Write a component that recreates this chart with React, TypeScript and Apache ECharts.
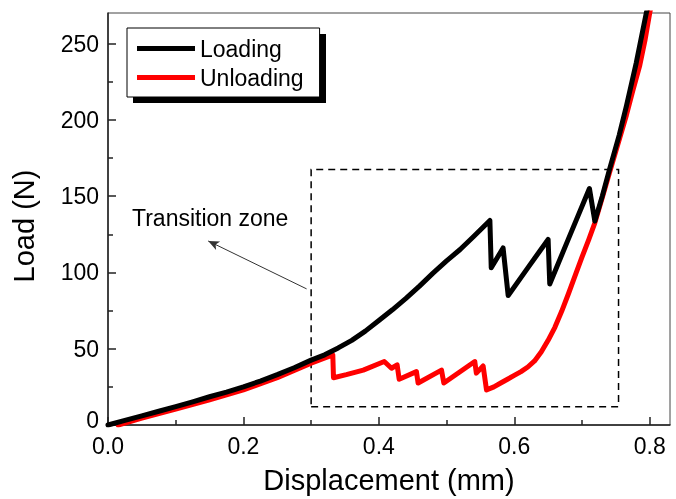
import React, { useEffect, useRef } from "react";
import * as echarts from "echarts";

const FONT = "'Liberation Sans', Arial, sans-serif";

// Loading curve (black)
const loadX = [0, 0.025, 0.05, 0.075, 0.1, 0.125, 0.15, 0.175, 0.2, 0.225, 0.25, 0.275, 0.3, 0.32, 0.34, 0.36, 0.38, 0.4, 0.42, 0.44, 0.46, 0.48, 0.5, 0.52, 0.54, 0.564, 0.566, 0.5835, 0.591, 0.62, 0.65, 0.6524, 0.68, 0.711, 0.719, 0.73, 0.741, 0.755, 0.7656, 0.78, 0.795, 0.8];
const loadY = [0, 3, 6, 9, 12, 15.2, 18.5, 21.6, 25, 28.8, 33, 37.5, 42.5, 46, 50.5, 55.5, 61.5, 68.5, 75.5, 83, 91, 99.5, 107.5, 115, 123.5, 134, 103, 116, 84.8, 103, 121.6, 92.4, 122, 155, 133.6, 150, 168, 190, 209, 237, 270, 278];

// Unloading curve (red)
const unX = [0.015, 0.05, 0.1, 0.15, 0.2, 0.25, 0.3, 0.332, 0.333, 0.352, 0.377, 0.408, 0.4187, 0.427, 0.43, 0.4555, 0.458, 0.4925, 0.496, 0.5417, 0.544, 0.554, 0.559, 0.57, 0.58, 0.59, 0.6, 0.61, 0.62, 0.63, 0.64, 0.65, 0.66, 0.67, 0.68, 0.69, 0.7, 0.71, 0.719, 0.73, 0.741, 0.753, 0.7656, 0.775, 0.785, 0.793, 0.8, 0.803];
const unY = [0, 4.5, 10.5, 16.5, 23, 31, 40.5, 46, 31, 33, 36, 41.6, 37.2, 39.4, 30, 35, 27.5, 36, 27.5, 41.6, 34, 38.7, 23, 25, 27.5, 30, 32.5, 35, 38, 42, 48, 55.5, 64, 74.5, 86, 98, 110, 121.5, 132.5, 149, 166, 184, 203, 219, 235, 252, 270, 276];

const xMajor = [0, 0.2, 0.4, 0.6, 0.8];
const xMinor = [0.1, 0.3, 0.5, 0.7];
const yMajor = [0, 50, 100, 150, 200, 250];
const yMinor = [25, 75, 125, 175, 225];

const zoneBox = [[0.3, 12], [0.754, 167.5]];
const arrowFrom = [0.2933, 89.2];
const arrowTo = [0.148, 120.6];

export default function App() {
  const ref = useRef<HTMLDivElement>(null);
  useEffect(() => {
    document.body.style.margin = "0";
    const chart = echarts.init(ref.current!, undefined, { renderer: "svg" });
    const pair = (xs: number[], ys: number[]) => xs.map((x, i) => [x, ys[i]]);
    const axisColor = "#222";
    chart.setOption({
      animation: false,
      grid: { left: 108, right: 6, top: 13, bottom: 70, show: true, borderColor: "#444", borderWidth: 1 },
      legend: {
        data: ["Loading", "Unloading"],
        orient: "vertical",
        left: 127,
        top: 28,
        padding: [9, 16, 8, 10],
        icon: "rect",
        itemWidth: 58,
        itemHeight: 5,
        itemGap: 6,
        backgroundColor: "#fff",
        borderColor: "#000",
        borderWidth: 1,
        textStyle: { fontSize: 23, color: "#000", fontFamily: FONT },
      },
      graphic: [
        { type: "rect", z: 1, shape: { x: 133, y: 34, width: 193, height: 69 }, style: { fill: "#000" } },
        { type: "text", z: 10, x: 132, y: 218, style: { text: "Transition zone", fontSize: 23, fontFamily: FONT, fill: "#000", verticalAlign: "middle" } },
      ],
      xAxis: [
        {
          type: "value", min: 0, max: 0.83, position: "bottom",
          name: "Displacement (mm)", nameLocation: "middle", nameGap: 40,
          nameTextStyle: { fontSize: 29, color: "#000", fontFamily: FONT },
          axisLine: { show: true, lineStyle: { color: axisColor, width: 1.5 } },
          axisTick: { show: true, inside: true, length: 8, customValues: xMajor, lineStyle: { color: axisColor, width: 1.5 } },
          axisLabel: { show: true, margin: 12, lineHeight: 18, customValues: xMajor, fontSize: 23, color: "#000", fontFamily: FONT, formatter: (v: number) => v.toFixed(1) },
          splitLine: { show: false },
        },
        {
          type: "value", min: 0, max: 0.83, position: "bottom",
          axisLine: { show: false },
          axisTick: { show: true, inside: true, length: 5, customValues: xMinor, lineStyle: { color: axisColor, width: 1.5 } },
          axisLabel: { show: false },
          splitLine: { show: false },
        },
      ],
      yAxis: [
        {
          type: "value", min: 0, max: 270, position: "left",
          name: "Load (N)", nameLocation: "middle", nameGap: 70,
          nameTextStyle: { fontSize: 29, color: "#000", fontFamily: FONT, padding: [0, 14, 0, 0] },
          axisLine: { show: true, lineStyle: { color: axisColor, width: 1.5 } },
          axisTick: { show: true, inside: true, length: 8, customValues: yMajor, lineStyle: { color: axisColor, width: 1.5 } },
          axisLabel: {
            show: true, margin: 9, lineHeight: 18, customValues: yMajor, fontSize: 23, color: "#000", fontFamily: FONT,
            formatter: (v: number) => (v === 0 ? "{z|0}" : String(v)),
            rich: { z: { fontSize: 23, color: "#000", fontFamily: FONT, lineHeight: 18, padding: [0, 0, 10, 0] } },
          },
          splitLine: { show: false },
        },
        {
          type: "value", min: 0, max: 270, position: "left",
          axisLine: { show: false },
          axisTick: { show: true, inside: true, length: 5, customValues: yMinor, lineStyle: { color: axisColor, width: 1.5 } },
          axisLabel: { show: false },
          splitLine: { show: false },
        },
      ],
      series: [
        {
          name: "Unloading", type: "line", data: pair(unX, unY), symbol: "none",
          lineStyle: { color: "#ff0000", width: 5, cap: "round", join: "round" },
          itemStyle: { color: "#ff0000" },
          markArea: {
            silent: true,
            itemStyle: { color: "rgba(0,0,0,0)", borderColor: "#000", borderWidth: 1.5, borderType: [7, 5] },
            label: { show: false },
            data: [[{ coord: zoneBox[0] }, { coord: zoneBox[1] }]],
          },
        },
        {
          name: "Loading", type: "line", data: pair(loadX, loadY), symbol: "none",
          lineStyle: { color: "#000", width: 5, cap: "round", join: "round" },
          itemStyle: { color: "#000" },
          markLine: {
            silent: true,
            symbol: ["none", "arrow"],
            symbolSize: [7, 11],
            label: { show: false },
            lineStyle: { color: "#333", width: 1, type: "solid" },
            data: [[{ coord: arrowFrom }, { coord: arrowTo }]],
          },
        },
      ],
    });
    return () => chart.dispose();
  }, []);
  return <div ref={ref} style={{ position: "fixed", left: 0, top: 0, width: 676, height: 499 }} />;
}
